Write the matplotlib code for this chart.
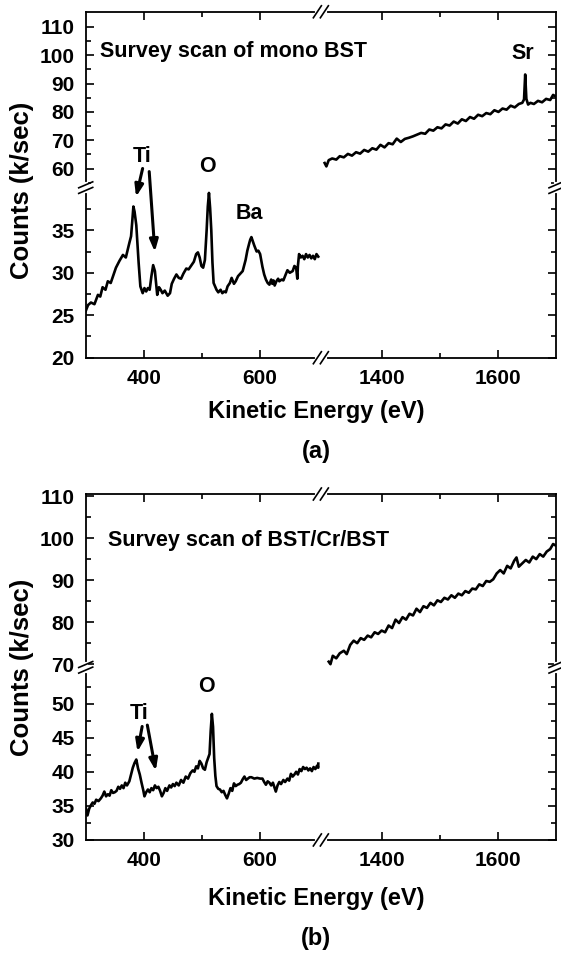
import matplotlib
matplotlib.use('Agg')
import matplotlib.pyplot as plt
from matplotlib.ticker import FixedLocator, FuncFormatter
import numpy as np

plt.rcParams['font.family'] = ['Liberation Sans', 'DejaVu Sans']
plt.rcParams['font.weight'] = 'bold'

# ---- panel (a): mono BST, low energy part
ea_lo = [300, 304, 309, 315, 321, 325, 329, 334, 338, 343,
         347, 352, 358, 364, 369, 375, 378, 380, 382, 384,
         387, 391, 394, 398, 401, 404, 407, 410, 413, 416,
         419, 423, 426, 429, 432, 436, 441, 445, 448, 452,
         456, 460, 464, 468, 473, 477, 482, 486, 490, 493,
         496, 499, 502, 505, 508, 510, 512, 514, 516, 518,
         520, 525, 528, 532, 535, 538, 541, 544, 548, 551,
         555, 558, 562, 566, 570, 575, 578, 581, 583, 585,
         587, 590, 594, 597, 600, 604, 607, 610, 613, 616,
         619, 621, 623, 625, 628, 631, 633, 637, 640, 644,
         647, 651, 656, 659, 662, 664, 665, 667, 670, 673,
         676, 679, 682, 685, 688, 691, 694, 697, 700]
ca_lo = [25.5, 26.2, 26.5, 26.3, 27.4, 27.2, 28.3, 28.0, 29.0, 28.8,
         29.6, 30.6, 31.4, 32.1, 31.8, 33.5, 34.3, 36.0, 37.8, 37.2,
         35.6, 31.2, 28.4, 27.6, 28.2, 27.8, 28.2, 28.0, 29.6, 30.9,
         30.2, 27.4, 28.3, 28.0, 27.6, 27.9, 27.3, 27.6, 28.7, 29.3,
         29.8, 29.4, 29.3, 29.9, 30.5, 30.4, 30.9, 31.3, 32.2, 32.4,
         31.8, 30.8, 30.6, 31.5, 35.0, 37.8, 39.4, 37.6, 35.0, 31.2,
         28.8, 28.0, 27.7, 28.0, 27.6, 27.8, 27.7, 28.4, 28.8, 29.4,
         28.7, 29.0, 29.6, 29.9, 30.2, 31.5, 32.6, 33.4, 33.9, 34.2,
         33.8, 33.2, 32.5, 32.6, 32.2, 30.7, 29.8, 29.2, 28.8, 28.6,
         29.2, 28.7, 29.1, 28.5, 29.0, 29.3, 29.0, 29.2, 29.1, 29.8,
         30.3, 30.0, 30.2, 30.8, 30.6, 29.3, 30.8, 32.2, 31.8, 32.0,
         31.6, 32.2, 31.8, 32.1, 31.7, 32.0, 31.6, 32.2, 31.9]

# ---- panel (a): high energy part
ea_hi = [1302, 1305, 1309, 1315, 1322, 1328, 1335, 1342, 1349, 1356,
         1363, 1370, 1377, 1384, 1391, 1398, 1405, 1412, 1419, 1426,
         1433, 1440, 1447, 1454, 1461, 1468, 1475, 1482, 1489, 1496,
         1503, 1510, 1517, 1524, 1531, 1538, 1545, 1552, 1559, 1566,
         1573, 1580, 1587, 1594, 1601, 1608, 1615, 1622, 1629, 1636,
         1642, 1645, 1647, 1649, 1652, 1656, 1662, 1669, 1676, 1683,
         1690, 1695, 1700]
ca_hi = [62.0, 60.8, 63.0, 63.6, 63.2, 64.4, 64.0, 65.2, 64.6, 65.8,
         65.3, 66.6, 66.0, 67.2, 66.7, 68.4, 67.5, 69.0, 68.6, 70.6,
         69.4, 70.5, 70.9, 71.4, 72.0, 72.6, 72.3, 73.8, 73.4, 74.6,
         74.2, 75.6, 75.2, 76.6, 75.9, 77.4, 76.8, 78.2, 77.6, 79.0,
         78.5, 79.6, 79.2, 80.6, 80.0, 81.2, 80.8, 82.2, 81.6, 82.8,
         83.2, 84.4, 93.2, 84.6, 82.6, 83.2, 82.8, 83.9, 83.4, 84.6,
         84.2, 86.0, 85.4]

# ---- panel (b): BST/Cr/BST, low energy part
eb_lo = [300, 303, 306, 309, 312, 315, 318, 322, 326, 329,
         332, 335, 338, 341, 344, 347, 350, 353, 356, 359,
         362, 365, 368, 371, 375, 378, 381, 384, 387, 390,
         393, 396, 399, 401, 404, 407, 410, 413, 416, 419,
         422, 425, 428, 431, 434, 437, 440, 444, 447, 450,
         453, 456, 460, 464, 468, 472, 476, 480, 484, 487,
         490, 493, 496, 499, 502, 505, 508, 511, 513, 515,
         517, 519, 521, 523, 525, 528, 531, 534, 537, 540,
         543, 546, 549, 552, 555, 558, 561, 564, 567, 570,
         573, 576, 579, 582, 585, 590, 595, 600, 604, 607,
         610, 613, 616, 619, 622, 625, 627, 630, 633, 636,
         640, 643, 647, 650, 653, 656, 659, 662, 665, 668,
         671, 674, 677, 680, 683, 686, 689, 692, 695, 698,
         701, 704]
cb_lo = [34.8, 33.6, 34.6, 35.1, 35.5, 35.3, 35.9, 35.7, 36.1, 36.5,
         37.1, 36.4, 36.7, 36.5, 37.3, 36.9, 37.0, 37.2, 37.8, 37.5,
         38.0, 37.6, 38.4, 38.0, 38.6, 39.6, 40.6, 41.3, 41.8, 40.5,
         39.6, 38.4, 37.3, 36.4, 37.0, 37.4, 37.0, 37.6, 37.3, 38.0,
         37.6, 37.8, 37.2, 36.4, 36.9, 37.6, 37.2, 38.0, 37.7, 38.2,
         37.9, 38.4, 38.0, 38.8, 38.4, 39.3, 39.0, 39.8, 40.2, 40.0,
         40.8, 40.5, 41.6, 41.2, 40.5, 40.3, 41.4, 42.1, 42.6, 46.0,
         48.5, 46.6, 42.0, 39.4, 37.9, 37.5, 37.4, 37.0, 37.2, 36.6,
         36.1, 36.8, 37.6, 37.2, 38.3, 37.9, 38.1, 38.2, 38.4, 38.9,
         39.3, 38.8, 39.0, 39.2, 39.2, 39.0, 39.1, 39.0, 39.0, 38.5,
         38.1, 38.6, 38.4, 38.0, 38.4, 37.6, 37.1, 38.0, 38.5, 38.2,
         38.8, 38.5, 39.0, 38.7, 39.7, 39.3, 39.6, 40.0, 39.6, 40.4,
         40.1, 40.7, 40.4, 40.6, 40.2, 40.5, 40.1, 40.7, 40.4, 40.9,
         40.6, 41.2]

# ---- panel (b): high energy part
eb_hi = [1309, 1312, 1316, 1322, 1328, 1335, 1340, 1346, 1352, 1358,
         1364, 1370, 1376, 1382, 1388, 1394, 1400, 1406, 1412, 1418,
         1424, 1430, 1436, 1442, 1448, 1454, 1460, 1466, 1472, 1478,
         1484, 1490, 1496, 1502, 1508, 1514, 1520, 1526, 1532, 1538,
         1544, 1550, 1556, 1562, 1568, 1574, 1580, 1586, 1592, 1598,
         1604, 1610, 1616, 1622, 1628, 1632, 1636, 1642, 1648, 1654,
         1660, 1666, 1672, 1678, 1684, 1690, 1695, 1700]
cb_hi = [70.6, 70.0, 72.0, 71.4, 72.6, 73.2, 72.4, 74.6, 75.6, 75.0,
         76.2, 75.8, 76.8, 76.4, 77.6, 77.2, 78.0, 77.6, 79.2, 78.6,
         80.6, 79.8, 81.2, 80.6, 82.0, 81.6, 83.2, 82.4, 83.8, 83.4,
         84.6, 84.0, 85.2, 84.8, 85.8, 85.4, 86.4, 85.8, 86.8, 86.4,
         87.4, 87.0, 88.0, 87.8, 89.0, 88.6, 89.8, 89.6, 90.2, 91.6,
         92.4, 91.6, 93.4, 92.8, 94.6, 95.4, 93.2, 94.0, 94.8, 94.2,
         95.6, 95.0, 96.2, 95.6, 96.8, 97.4, 98.6, 98.2]

x_major = [400, 600, 1400, 1600]
x_minor = [500, 1500]
ya_major = [20, 25, 30, 35, 60, 70, 80, 90, 100, 110]
ya_minor = [22.5, 27.5, 32.5, 37.5, 55, 65, 75, 85, 95, 105]
yb_major = [30, 35, 40, 45, 50, 70, 80, 90, 100, 110]
yb_minor = [32.5, 37.5, 42.5, 47.5, 52.5, 75, 85, 95, 105]


def broken(lo_end, hi_start, k, gap):
    # piecewise linear scale: slope 1 below the break, slope k above it
    xs = [lo_end - 1e5, lo_end, hi_start, hi_start + 1e5]
    ys = [lo_end - 1e5, lo_end, lo_end + gap, lo_end + gap + 1e5 * k]
    fwd = lambda v: np.interp(v, xs, ys)
    inv = lambda v: np.interp(v, ys, xs)
    return fwd, inv, lo_end + gap / 2.0


def break_frac(f, mid, lo, hi):
    return (mid - f(lo)) / (f(hi) - f(lo))


W, H = 470.3, 346.0   # axes size in px


def draw_breaks(ax, xb, yb):
    kw = dict(transform=ax.transAxes, clip_on=False, zorder=10)
    for y in (0, 1):
        ax.plot([xb - 4 / W, xb + 4 / W], [y, y], color='white', lw=3, **kw)
        for c in (xb - 3.5 / W, xb + 3.5 / W):
            ax.plot([c - 4 / W, c + 4 / W], [y - 6 / H, y + 6 / H],
                    color='black', lw=1.2, **kw)
    for x in (0, 1):
        ax.plot([x, x], [yb - 3.5 / H, yb + 3.5 / H], color='white', lw=3, **kw)
        for c in (yb - 2.8 / H, yb + 2.8 / H):
            ax.plot([x - 7 / W, x + 7 / W], [c - 3 / H, c + 3 / H],
                    color='black', lw=1.2, **kw)


def setup(ax, ylim, ybrk, ymaj, ymin):
    xf, xi, xmid = broken(700, 1300, 1.0, 9)
    yf, yi, ymid = ybrk
    ax.set_xscale('function', functions=(xf, xi))
    ax.set_yscale('function', functions=(yf, yi))
    ax.set_xlim(300, 1700)
    ax.set_ylim(*ylim)
    ax.xaxis.set_major_locator(FixedLocator(x_major))
    ax.xaxis.set_minor_locator(FixedLocator(x_minor))
    ax.yaxis.set_major_locator(FixedLocator(ymaj))
    ax.yaxis.set_minor_locator(FixedLocator(ymin))
    fmt = FuncFormatter(lambda v, p: f'{v:g}')
    ax.xaxis.set_major_formatter(fmt)
    ax.yaxis.set_major_formatter(fmt)
    ax.xaxis.set_minor_formatter(FuncFormatter(lambda v, p: ''))
    ax.yaxis.set_minor_formatter(FuncFormatter(lambda v, p: ''))
    ax.tick_params(which='both', direction='in', top=True, right=True,
                   width=1.2, labelsize=15, pad=8)
    ax.tick_params(which='major', length=5.5)
    ax.tick_params(which='minor', length=3.5)
    for s in ax.spines.values():
        s.set_linewidth(1.3)
    xb = break_frac(xf, xmid, 300, 1700)
    yb = break_frac(yf, ymid, ylim[0], ylim[1])
    draw_breaks(ax, xb, yb)


def arrow(ax, tail, tip):
    ax.annotate('', xy=tip, xytext=tail, xycoords='axes fraction',
                textcoords='axes fraction',
                arrowprops=dict(arrowstyle='-|>,head_length=0.7,head_width=0.25',
                                lw=2.2, color='black', shrinkA=0, shrinkB=0))


fig = plt.figure(figsize=(5.61, 9.57), dpi=100)
ax_a = fig.add_axes([0.1528, 0.6262, 0.8383, 0.3615])
ax_b = fig.add_axes([0.1528, 0.1223, 0.8383, 0.3615])

setup(ax_a, (20, 115.3), broken(40, 53.4, 0.334, 0.05), ya_major, ya_minor)
setup(ax_b, (30, 110.5), broken(55.3, 69.3, 0.6164, 0.05), yb_major, yb_minor)

for ax, e1, c1, e2, c2 in ((ax_a, ea_lo, ca_lo, ea_hi, ca_hi),
                           (ax_b, eb_lo, cb_lo, eb_hi, cb_hi)):
    ax.plot(e1, c1, color='black', lw=1.9, solid_joinstyle='round')
    ax.plot(e2, c2, color='black', lw=1.9, solid_joinstyle='round')

tkw = dict(xycoords='axes fraction', fontsize=15.5, fontweight='bold')
ax_a.annotate('Survey scan of mono BST', (0.030, 0.884), ha='left', va='center', **tkw)
ax_a.annotate('Ti', (0.119, 0.581), ha='center', va='center', **tkw)
ax_a.annotate('O', (0.259, 0.552), ha='center', va='center', **tkw)
ax_a.annotate('Ba', (0.349, 0.417), ha='center', va='center', **tkw)
ax_a.annotate('Sr', (0.930, 0.880), ha='center', va='center', **tkw)
arrow(ax_a, (0.121, 0.547), (0.107, 0.465))
arrow(ax_a, (0.135, 0.538), (0.147, 0.306))

ax_b.annotate('Survey scan of BST/Cr/BST', (0.047, 0.867), ha='left', va='center', **tkw)
ax_b.annotate('Ti', (0.113, 0.366), ha='center', va='center', **tkw)
ax_b.annotate('O', (0.257, 0.443), ha='center', va='center', **tkw)
arrow(ax_b, (0.120, 0.328), (0.110, 0.255))
arrow(ax_b, (0.131, 0.332), (0.149, 0.200))

lkw = dict(fontsize=17, fontweight='bold', ha='center', va='center')
fig.text(316 / 561, 1 - 411.7 / 957, 'Kinetic Energy (eV)', **lkw)
fig.text(316 / 561, 1 - 452 / 957, '(a)', **lkw)
fig.text(316 / 561, 1 - 898 / 957, 'Kinetic Energy (eV)', **lkw)
fig.text(316 / 561, 1 - 938 / 957, '(b)', **lkw)
ykw = dict(lkw, fontsize=18.5)
fig.text(21.7 / 561, 1 - 190 / 957, 'Counts (k/sec)', rotation=90, **ykw)
fig.text(21.7 / 561, 1 - 667 / 957, 'Counts (k/sec)', rotation=90, **ykw)

fig.savefig('out.png', dpi=100)
